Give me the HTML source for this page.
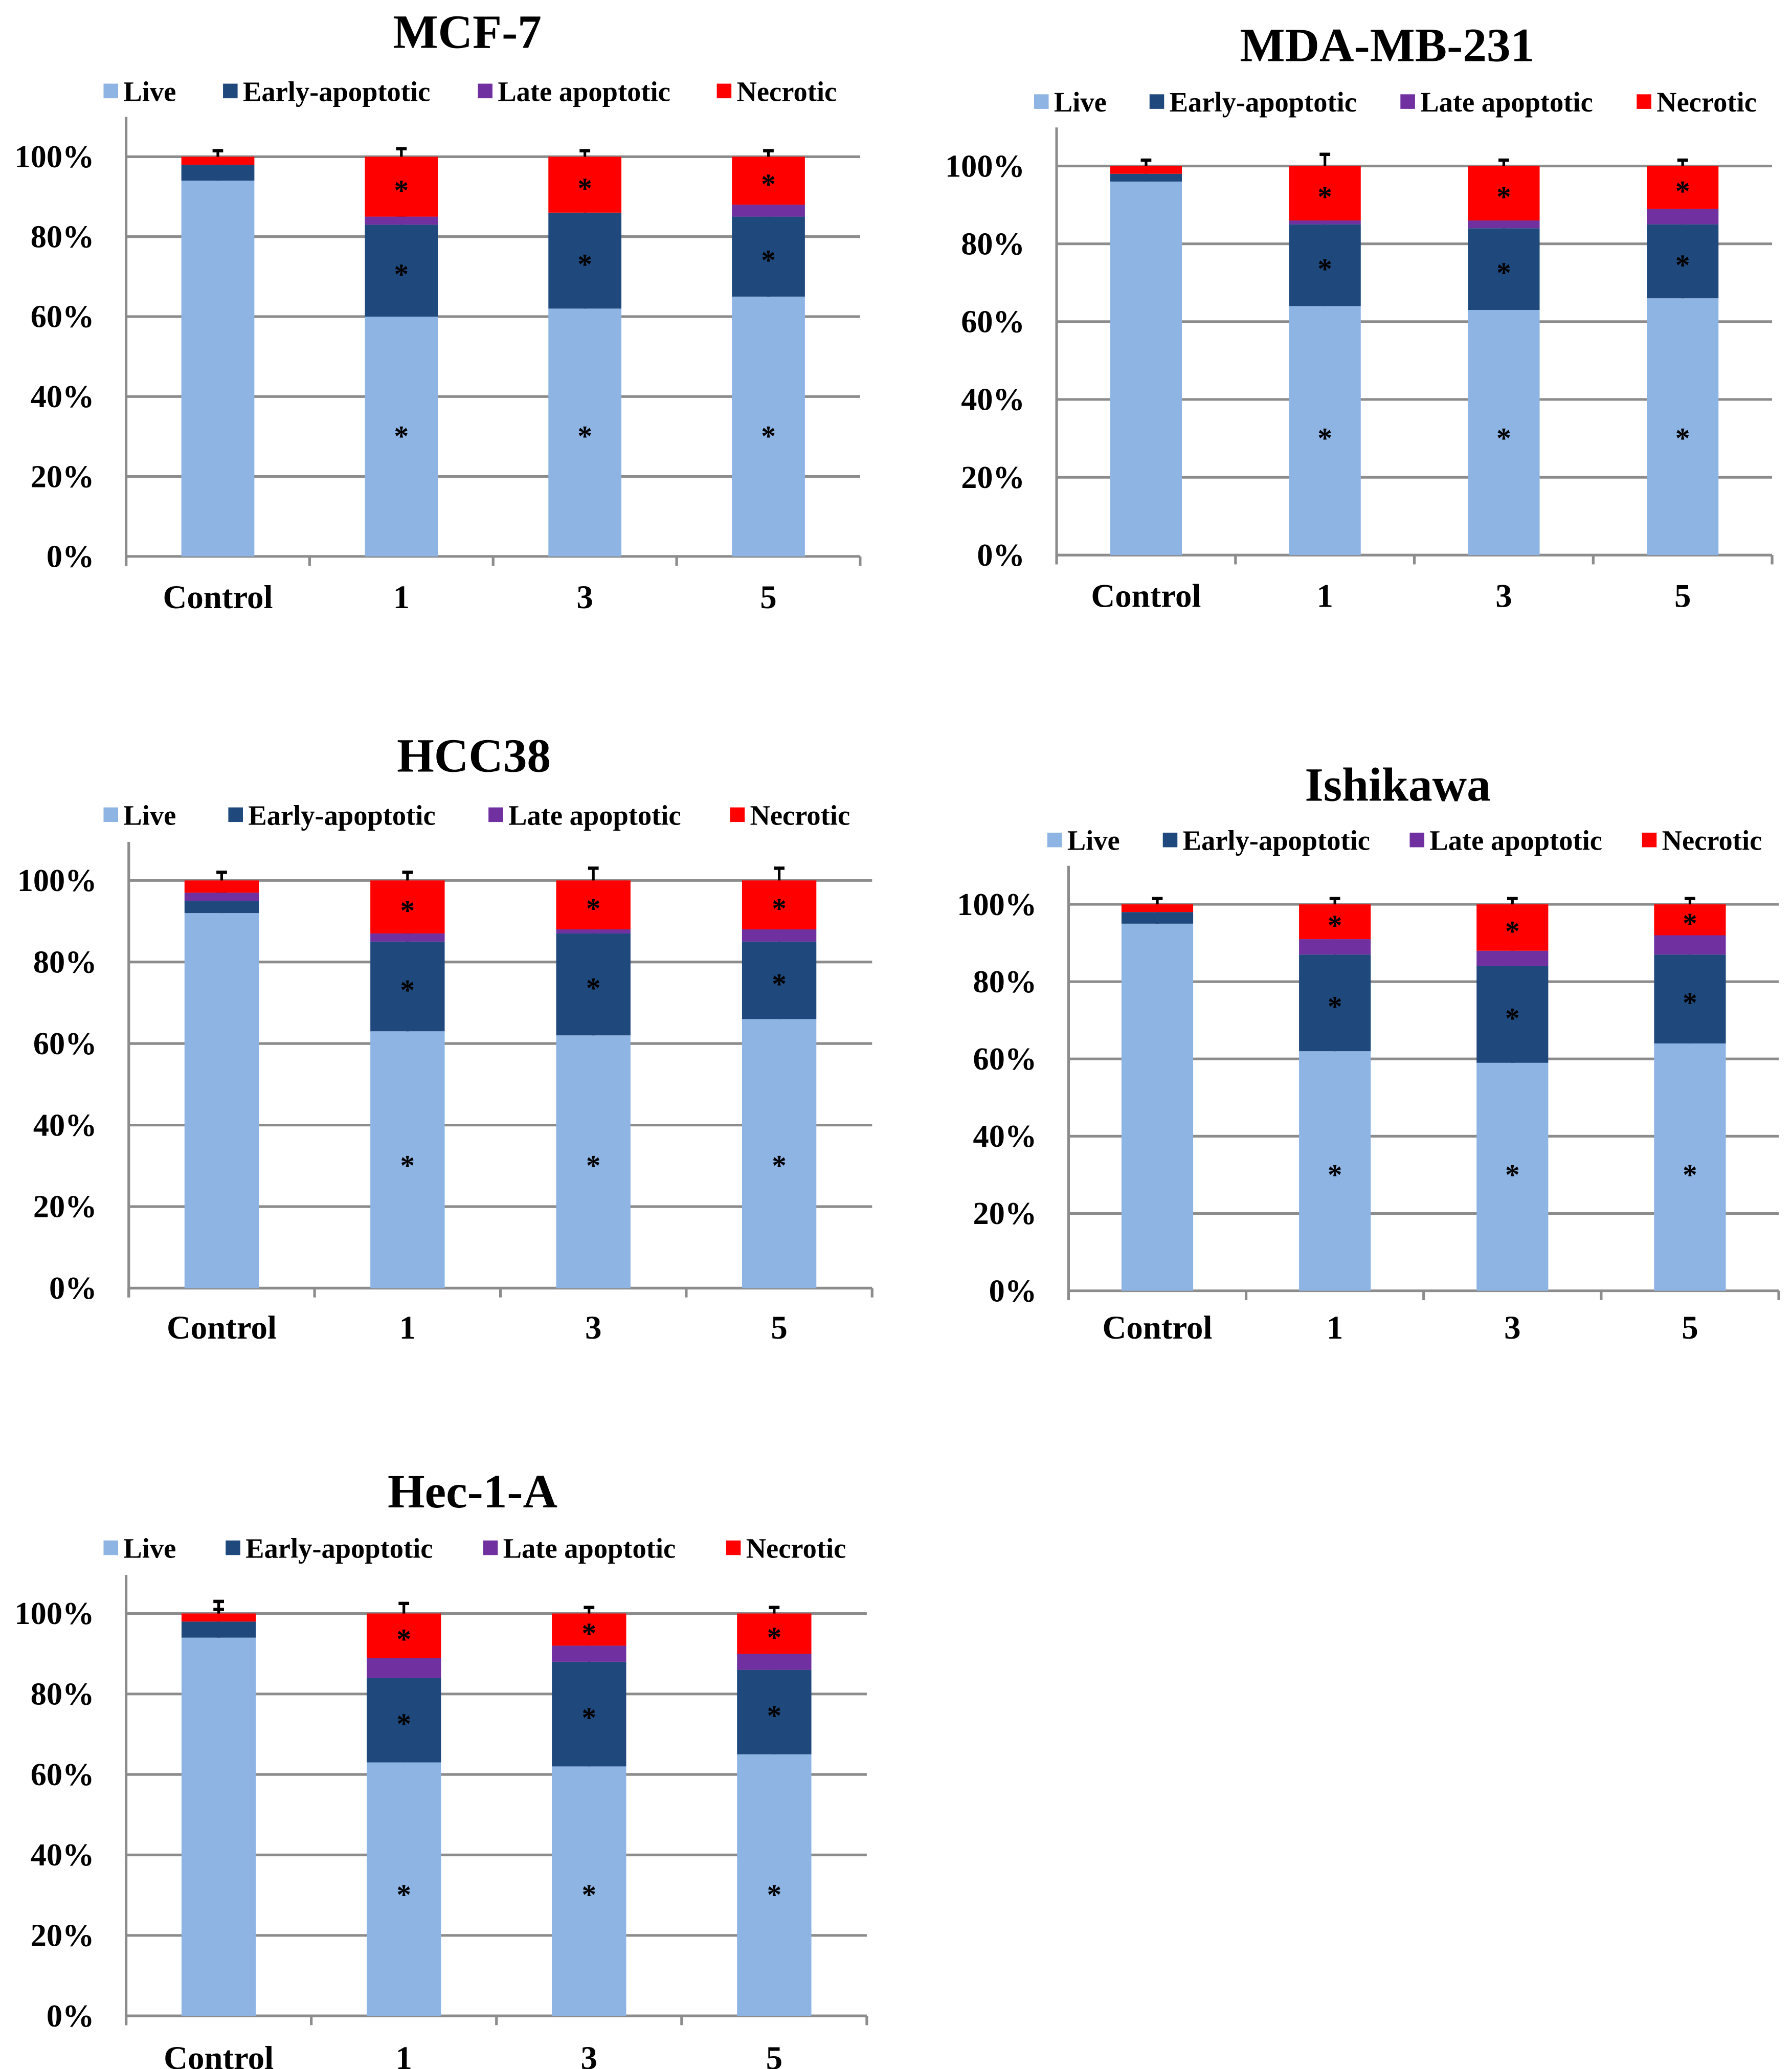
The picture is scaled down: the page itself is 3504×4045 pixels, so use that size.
<!DOCTYPE html>
<html><head><meta charset="utf-8"><style>
html,body{margin:0;padding:0;background:#fff}
svg{display:block}
text{font-family:"Liberation Serif",serif;font-weight:bold;fill:#000}
</style></head><body>
<svg id="fig" width="3504" height="4045" viewBox="0 0 1350 1558" preserveAspectRatio="none" xmlns="http://www.w3.org/2000/svg"></svg>
<script>
const categories = ["Control","1","3","5"];
const seriesNames = ["Live","Early-apoptotic","Late apoptotic","Necrotic"];
const seriesColors = ["#8eb4e3","#1f497d","#7030a0","#ff0000"];
const yTicks = [0,20,40,60,80,100];
const yTickLabels = ["0%","20%","40%","60%","80%","100%"];
const titles = ["MCF-7","MDA-MB-231","HCC38","Ishikawa","Hec-1-A"];
const liveValues = [[94,60,62,65],[96,64,63,66],[92,63,62,66],[95,62,59,64],[94,63,62,65]];
const earlyValues = [[4,23,24,20],[2,21,21,19],[3,22,25,19],[3,25,25,23],[4,21,26,21]];
const lateValues = [[0,2,0,3],[0,1,2,4],[2,2,1,3],[0,4,4,5],[0,5,4,4]];
const necroticValues = [[2,15,14,12],[2,14,14,11],[3,13,12,12],[2,9,12,8],[2,11,8,10]];
const errorValues = [[1.5,2,1.5,1.5],[1.5,3,1.5,1.5],[2,2,3,3],[1.5,1.5,1.5,1.5],[3,2.5,1.5,1.5]];

// layout (not data)
const layouts = [
 {tx:352,ty:36,ly:69,lx:[78,168,360,540],x0:95,x1:648,y0:419,y100:118,top:88,bw:55,xl:458},
 {tx:1045,ty:46,ly:77,lx:[779,866,1055,1233],x0:796,x1:1335,y0:418,y100:125,top:96,bw:54,xl:457},
 {tx:357,ty:581,ly:614,lx:[78,172,368,550],x0:97,x1:657,y0:970,y100:663,top:634,bw:56,xl:1008},
 {tx:1053,ty:603,ly:633,lx:[789,876,1062,1237],x0:805,x1:1340,y0:972,y100:681,top:652,bw:54,xl:1008},
 {tx:356,ty:1135,ly:1166,lx:[78,170,364,547],x0:95,x1:653,y0:1518,y100:1215,top:1186,bw:56,xl:1558}
];
const NS="http://www.w3.org/2000/svg";
const svg=document.getElementById('fig');
function mk(tag,attrs,parent){const e=document.createElementNS(NS,tag);for(const k in attrs)e.setAttribute(k,attrs[k]);(parent||svg).appendChild(e);return e;}

titles.forEach((title,ci)=>{
  const L=layouts[ci];
  const g=mk('g',{});
  
  
  const yS=v=>L.y0-(L.y0-L.y100)*v/100;
  const band=(L.x1-L.x0)/categories.length;
  const xS=i=>L.x0+band*(i+0.5);
  const t=mk('text',{x:L.tx,y:L.ty,'text-anchor':'middle','font-size':36},g);t.textContent=title;
  
  
  seriesNames.forEach((s,si)=>{
    const lg=mk('g',{},g);
    
    
    mk('rect',{x:L.lx[si],y:L.ly-6,width:11,height:11,fill:seriesColors[si]},lg);
    const lt=mk('text',{x:L.lx[si]+15,y:L.ly+7,'font-size':21},lg);lt.textContent=s;
  });
  yTicks.forEach((v,i)=>{
    const gl=mk('line',{x1:L.x0,x2:L.x1,y1:yS(v),y2:yS(v),stroke:'#8c8c8c','stroke-width':2},g);
    
    
    const yl=mk('text',{x:L.x0-24,y:yS(v)+8,'text-anchor':'end','font-size':24},g);yl.textContent=yTickLabels[i];
    
    
  });
  mk('line',{x1:L.x0,x2:L.x0,y1:L.top,y2:L.y0+7,stroke:'#8c8c8c','stroke-width':2},g);
  for(let i=0;i<=categories.length;i++) mk('line',{x1:L.x0+band*i,x2:L.x0+band*i,y1:L.y0,y2:L.y0+7,stroke:'#8c8c8c','stroke-width':2},g);
  const series=[liveValues[ci],earlyValues[ci],lateValues[ci],necroticValues[ci]];
  categories.forEach((c,i)=>{
    let cum=0;const cx=xS(i);
    series.forEach((vals,si)=>{
      const v=vals[i];
      if(v>0){
        const r=mk('rect',{x:cx-L.bw/2,y:yS(cum+v),width:L.bw,height:yS(cum)-yS(cum+v),fill:seriesColors[si]},g);
        
        
      }
      const prev=cum;cum+=v;
      if(v>0){
        const e=errorValues[ci][i];
        mk('line',{x1:cx,x2:cx,y1:yS(cum),y2:yS(cum+e),stroke:'#000','stroke-width':2},g);
        mk('line',{x1:cx-4,x2:cx+4,y1:yS(cum+e),y2:yS(cum+e),stroke:'#000','stroke-width':2.5},g);
      }
      if(i>0 && si!==2){
        const ay=si===0?yS(31):yS(prev+v/2);
        const a=mk('text',{x:cx,y:ay+10,'text-anchor':'middle','font-size':22,'font-weight':'normal'},g);a.textContent='*';
        
        
      }
    });
    const xl=mk('text',{x:cx,y:L.xl,'text-anchor':'middle','font-size':25},g);xl.textContent=c;
    
    
  });
});
</script>
</body></html>
